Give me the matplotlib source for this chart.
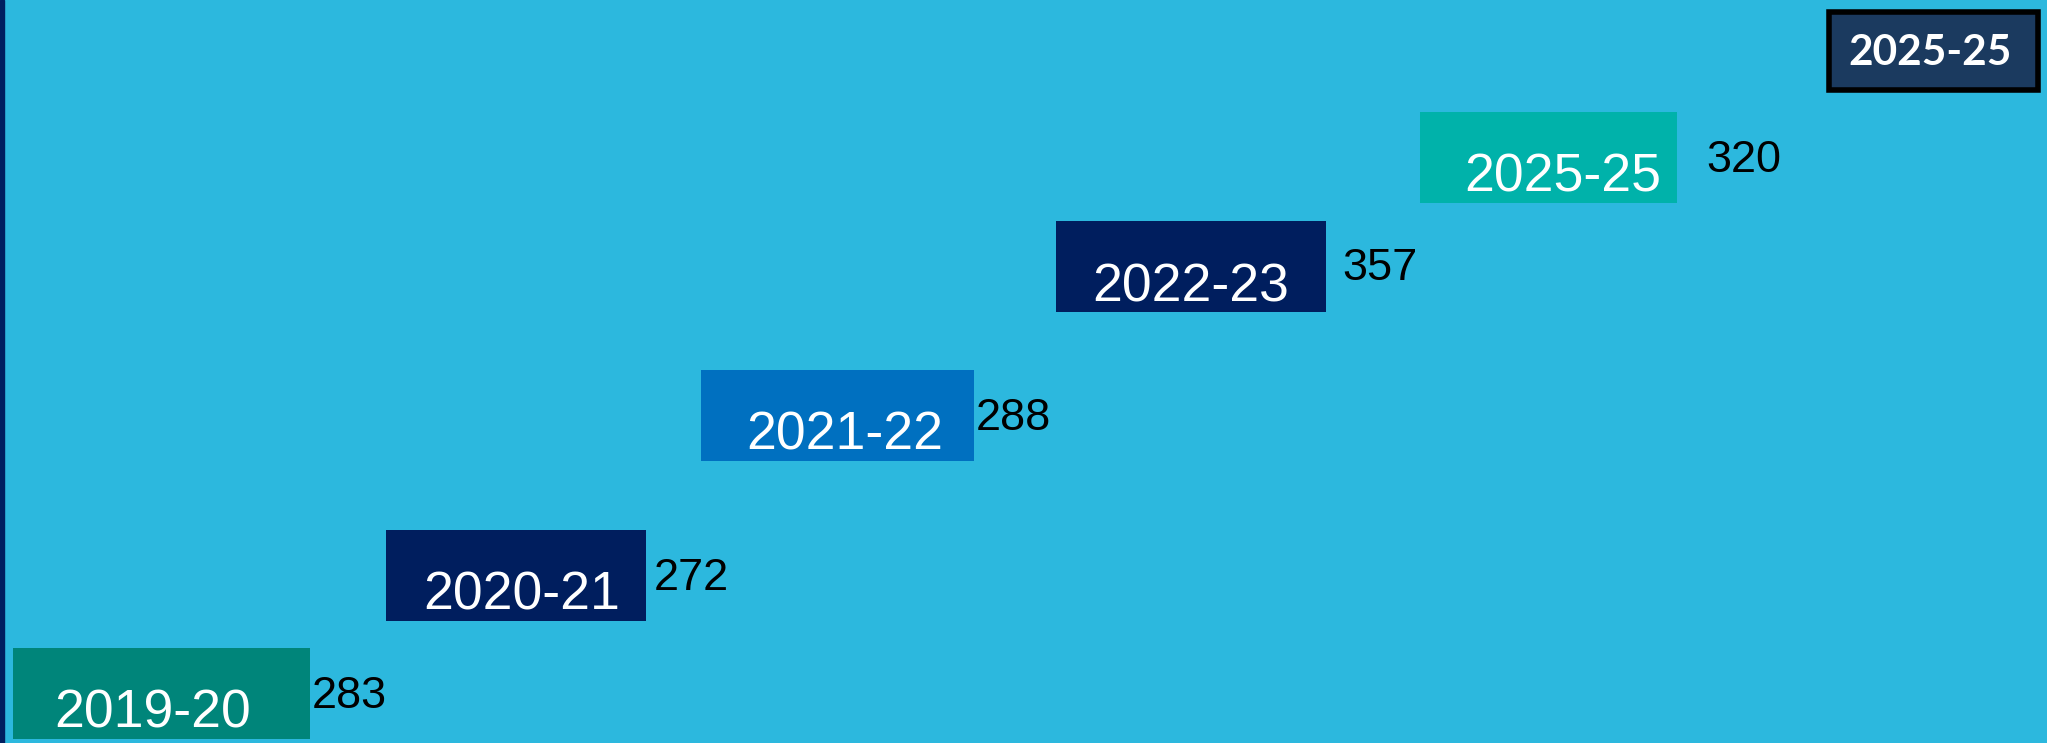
import matplotlib.pyplot as plt
from matplotlib.patches import FancyBboxPatch

# data
periods = ['2019-20', '2020-21', '2021-22', '2022-23', '2025-25']
values = [283, 272, 288, 357, 320]
badge_text = '2025-25'

# layout (axis units = pixels, y from top)
starts = [13, 386, 701, 1056, 1420]
ends = [310, 646, 974, 1326, 1677]
levels = [693, 575, 415, 266, 157]
bar_h = 91
label_shift = [-9, 6, 7, 0, 14]   # period label offset from bar centre
label_gap = [2, 8, 2, 16, 29]
colors = ['#00857A', '#001E5E', '#0070C0', '#001E5E', '#00B2AA']

W, H = 2047, 743
fig = plt.figure(figsize=(W / 100, H / 100), dpi=100)
fig.patch.set_facecolor('#2CB8DE')
ax = fig.add_axes([0, 0, 1, 1])
ax.set_facecolor('#2CB8DE')
ax.set_xlim(0, W)
ax.set_ylim(H, 0)
ax.axis('off')

# dark stripe on left edge
ax.axvspan(0, 4, color='#002060', zorder=1)

widths = [e - s for s, e in zip(starts, ends)]
ax.barh(levels, widths, left=starts, height=bar_h, color=colors, zorder=2)

for s, w, y, p, v, d, g in zip(starts, widths, levels, periods, values, label_shift, label_gap):
    ax.text(s + w / 2 + d, y + 21, p, color='white', fontsize=38.5,
            family='Liberation Sans', ha='center', va='center', zorder=3)
    ax.text(s + w + g, y + 3, str(v), color='black', fontsize=32.5,
            family='Liberation Sans', ha='left', va='center', zorder=3)

# badge in the top right corner
badge = FancyBboxPatch((1829, 12), 209, 78, boxstyle='square,pad=0',
                       facecolor='#1B3A5F', edgecolor='black', linewidth=4, zorder=3)
ax.add_patch(badge)
ax.text(1930, 53, badge_text, color='white', fontsize=30.5, fontweight='bold',
        family='Lato', ha='center', va='center', zorder=4)

fig.savefig('out.png', dpi=100, facecolor=fig.get_facecolor())
